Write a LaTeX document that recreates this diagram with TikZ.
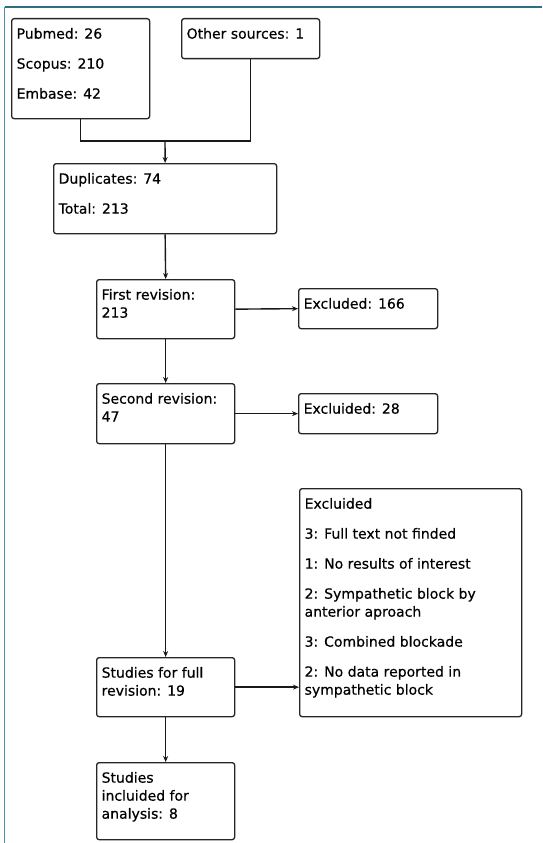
\documentclass[tikz,border=0pt]{standalone}
\usepackage{fontspec}
\setmainfont{DejaVu Sans}[FakeBold=0.4]
\usetikzlibrary{arrows.meta}
\definecolor{topline}{HTML}{2E6F84}
\definecolor{leftline}{HTML}{4596AB}
\newcommand{\bx}[3]{\parbox[c][#2pt][t]{\dimexpr#1pt-10pt\relax}{\raggedright\setlength{\parskip}{12pt}\fontsize{14}{18}\selectfont\rule{0pt}{20pt}#3}}
\tikzset{
  flowbox/.style={draw=black!85, line width=1.3pt, rounded corners=2.5pt, anchor=north west,
    inner xsep=5pt, inner ysep=0pt, fill=white},
  conn/.style={draw=black!90, line width=1.4pt},
  arr/.style={conn, -{Stealth[length=6pt,width=5pt]}}
}
\begin{document}
\begin{tikzpicture}[x=1pt,y=-1pt]
\useasboundingbox (0,0) rectangle (542,843);
\fill[white] (0,0) rectangle (542,843);
\draw[topline, line width=1.5pt] (4.5,7) -- (542,7);
\draw[leftline, line width=1.5pt] (4.5,7) -- (4.5,843);

\node[flowbox] (src) at (11,18) {\bx{138}{100}{Pubmed: 26\par Scopus: 210\par Embase: 42}};
\node[flowbox] (oth) at (181,18) {\bx{138}{40}{Other sources: 1}};
\node[flowbox] (dup) at (53,163) {\bx{223}{70}{Duplicates: 74\par Total: 213}};
\node[flowbox] (rev1) at (96,279) {\bx{138}{59}{First revision:\\213}};
\node[flowbox] (exc1) at (298,288) {\bx{139}{40}{Excluded: 166}};
\node[flowbox] (rev2) at (96,383) {\bx{138}{60}{Second revision:\\47}};
\node[flowbox] (exc2) at (298,393) {\bx{139}{40}{Excluided: 28}};
\node[flowbox] (exc3) at (299,488) {\bx{222}{228}{Excluided\par 3: Full text not finded\par 1: No results of interest\par 2: Sympathetic block by\\anterior aproach\par 3: Combined blockade\par 2: No data reported in\\sympathetic block}};
\node[flowbox] (full) at (96,657) {\bx{138}{59}{Studies for full\\revision: 19}};
\node[flowbox] (incl) at (96,762) {\bx{138}{77}{Studies\\incluided for\\analysis: 8}};

\coordinate (j) at (165,141);
\draw[conn] (src.south) |- (j) -| (oth.south);
\draw[arr] (j) -- (dup.north);
\draw[arr] (dup.south) -- (rev1.north);
\draw[arr] (rev1.east) -- (exc1.west);
\draw[arr] (rev1.south) -- (rev2.north);
\draw[arr] (rev2.east) -- (exc2.west);
\draw[arr] (rev2.south) -- (full.north);
\draw[arr] (full.east) -- (full.east -| exc3.west);
\draw[arr] (full.south) -- (incl.north);
\end{tikzpicture}
\end{document}
